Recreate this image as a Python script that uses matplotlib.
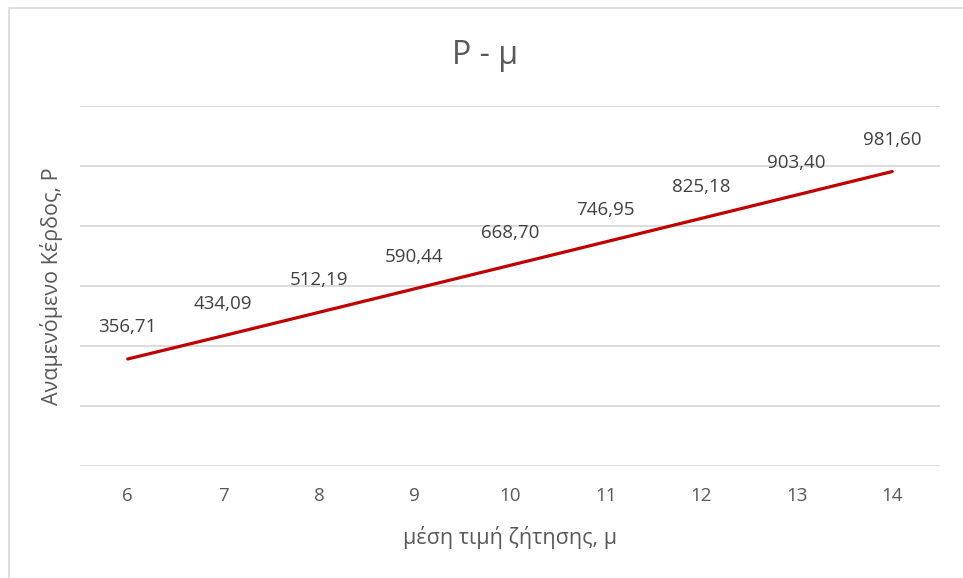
import matplotlib.pyplot as plt
from matplotlib.patches import Rectangle

plt.rcParams['font.family'] = ['Open Sans', 'DejaVu Sans']

# Δεδομένα
mu_values = [6, 7, 8, 9, 10, 11, 12, 13, 14]
profit = [356.71, 434.09, 512.19, 590.44, 668.70, 746.95, 825.18, 903.40, 981.60]
labels = ['356,71', '434,09', '512,19', '590,44', '668,70',
          '746,95', '825,18', '903,40', '981,60']

W, H = 963, 578
fig = plt.figure(figsize=(W / 100, H / 100), dpi=100)

# περίγραμμα γραφήματος
fig.patches.append(Rectangle((9 / W, -0.1), 1.2, 1.1 - 8 / H, transform=fig.transFigure,
                             fill=False, edgecolor='#D9D9D9', linewidth=1.2))

ax = fig.add_axes([80 / W, 1 - 466 / H, (940 - 80) / W, (466 - 106) / H])
ax.plot(mu_values, profit, color='#C00000', linewidth=2.3, solid_capstyle='round')

for x, y, t in zip(mu_values, profit, labels):
    ax.annotate(t, (x, y), xytext=(0, 23), textcoords='offset points',
                ha='center', va='center', fontsize=13.5, color='#404040')

ax.set_xlim(5.5, 14.5)
ax.set_ylim(0, 1200)
ax.set_yticks(range(0, 1201, 200))
ax.set_yticklabels([])
ax.set_xticks(mu_values)
ax.set_xticklabels([str(m) for m in mu_values], fontsize=13.5, color='#595959')
ax.tick_params(axis='both', length=0)
ax.tick_params(axis='x', pad=15)
ax.grid(axis='y', color='#D9D9D9', linewidth=1.3)
ax.set_axisbelow(True)
for s in ax.spines.values():
    s.set_visible(False)

ax.set_xlabel('μέση τιμή ζήτησης, μ', fontsize=15.5, color='#595959', labelpad=15)
ax.set_ylabel('Αναμενόμενο Κέρδος, Ρ', fontsize=15.5, color='#595959', labelpad=9)
fig.text(485 / W, 1 - 55 / H, 'P - μ', ha='center', va='center', fontsize=23, color='#595959')

fig.savefig('out.png', dpi=100)
